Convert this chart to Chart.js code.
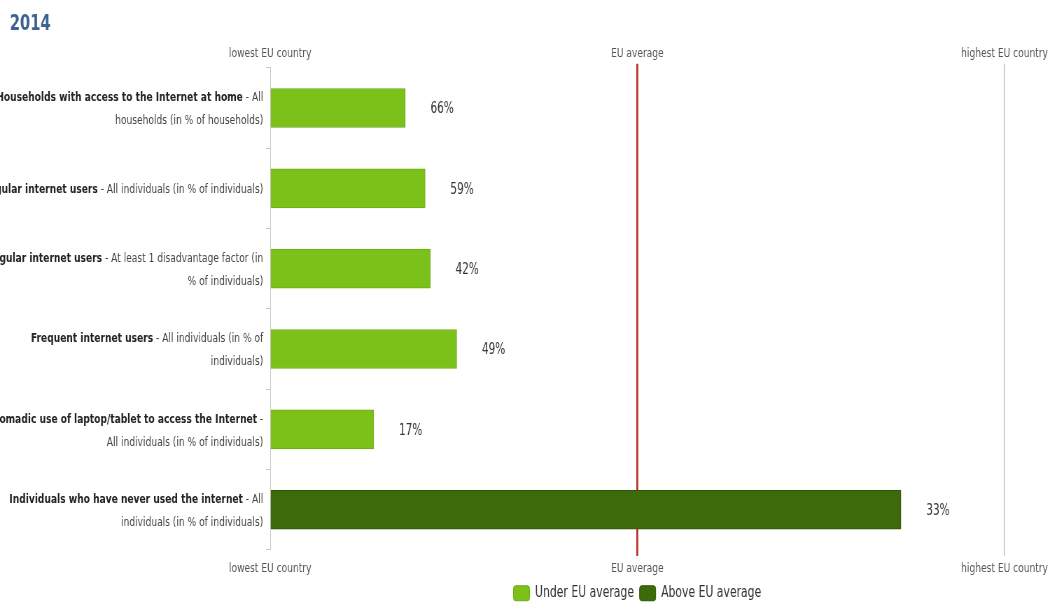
<!DOCTYPE html>
<html>
<head>
<meta charset="utf-8">
<script src="https://cdn.jsdelivr.net/npm/chart.js@4.4.1/dist/chart.umd.min.js"></script>
<style>
  html, body { margin: 0; padding: 0; background: #fff; overflow: hidden; }
  /* the source picture is squeezed horizontally, so draw wide and squeeze */
  #wrap { width: 1502px; height: 605px; transform: scaleX(0.7); transform-origin: 0 0; }
</style>
</head>
<body>
<div id="wrap"><canvas id="myChart"></canvas></div>
<script>
// bold indicator names, then the breakdown (\n marks where the label wraps)
const indicators = [
    'Households with access to the Internet at home',
    'Regular internet users',
    'Regular internet users',
    'Frequent internet users',
    'Nomadic use of laptop/tablet to access the Internet',
    'Individuals who have never used the internet'
];
const breakdowns = [
    'All\nhouseholds (in % of households)',
    'All individuals (in % of individuals)',
    'At least 1 disadvantage factor (in\n% of individuals)',
    'All individuals (in % of\nindividuals)',
    '\nAll individuals (in % of individuals)',
    'All\nindividuals (in % of individuals)'
];
// position between lowest (0) and highest (1) EU country, EU average = 0.5
const positions = [0.184, 0.211, 0.218, 0.254, 0.141, 0.859];
// the country's own value shown next to each bar
const values = [66, 59, 42, 49, 17, 33];
const tickValues = [0, 0.5, 1];
const tickLabels = ['lowest EU country', 'EU average', 'highest EU country'];
const seriesNames = ['Under EU average', 'Above EU average'];

const LIGHT = '#7cc11a';
const DARK = '#3d6b0b';

const under = positions.map(p => p < 0.5 ? p : null);
const above = positions.map(p => p >= 0.5 ? p : null);

const labelPlugin = {
    id: 'sideLabels',
    afterLayout(chart) {
        // centre the legend under the plot area
        const lg = chart.legend;
        const mid = (chart.chartArea.left + chart.chartArea.right) / 2;
        const dx = mid - (lg.left + lg.right) / 2;
        lg.left += dx;
        lg.right += dx;
        lg.top -= 4;
        lg.bottom -= 4;
        // small indent for the title
        chart.titleBlock.left += 14;
        chart.titleBlock.right += 14;
    },
    afterDatasetsDraw(chart) {
        const ctx = chart.ctx;
        const y = chart.scales.y;
        const x = chart.scales.x;
        const right = chart.chartArea.left - 10;
        ctx.save();
        ctx.textBaseline = 'middle';
        indicators.forEach((name, i) => {
            const full = name + ' - ' + breakdowns[i];
            const lines = full.split('\n').map(s => s.trim());
            const cy = y.getPixelForValue(i) + 1.5;
            const lh = 23;
            let boldLeft = name.length;
            lines.forEach((line, j) => {
                const ly = cy + (j - (lines.length - 1) / 2) * lh;
                const b = line.slice(0, Math.max(0, boldLeft));
                const r = line.slice(Math.max(0, boldLeft));
                boldLeft -= line.length + 1;
                ctx.textAlign = 'right';
                ctx.font = '13px "DejaVu Sans"';
                ctx.fillStyle = '#444';
                ctx.fillText(r, right, ly);
                const rw = ctx.measureText(r).width;
                ctx.font = 'bold 13px "DejaVu Sans"';
                ctx.fillStyle = '#222';
                ctx.fillText(b, right - rw, ly);
            });
            // value text next to the bar
            ctx.font = '15px "DejaVu Sans"';
            ctx.fillStyle = '#333';
            ctx.textAlign = 'left';
            ctx.fillText(values[i] + '%', x.getPixelForValue(positions[i]) + 36, cy);
        });
        ctx.restore();
    }
};

const lineColor = c => {
    const v = c.tick && c.tick.value;
    if (v === 0.5) return '#b8302a';
    if (v === 1) return '#bbbbbb';
    return 'rgba(0,0,0,0)';
};
const lineWidth = c => (c.tick && c.tick.value === 0.5) ? 2.8 : 1.4;

const ctx = document.getElementById('myChart').getContext('2d');
const myChart = new Chart(ctx, {
    type: 'bar',
    data: {
        labels: indicators,
        datasets: [{
            label: seriesNames[0],
            data: under,
            backgroundColor: LIGHT,
            borderColor: '#6aab12',
            borderWidth: 1,
            barThickness: 39
        }, {
            label: seriesNames[1],
            data: above,
            backgroundColor: DARK,
            borderColor: '#2f5508',
            borderWidth: 1,
            barThickness: 39
        }]
    },
    plugins: [labelPlugin],
    options: {
        indexAxis: 'y',
        responsive: true,
        maintainAspectRatio: false,
        animation: false,
        layout: { padding: { left: 0, right: 64, top: 0, bottom: -10 } },
        scales: {
            y: {
                stacked: true,
                ticks: { display: false },
                grid: { drawOnChartArea: false, tickLength: 6, color: '#c8c8c8', offset: true },
                border: { display: true, color: '#c8c8c8' },
                afterFit(scale) { scale.width = 386; }
            },
            x: {
                stacked: true,
                min: 0,
                max: 1,
                position: 'bottom',
                afterBuildTicks(scale) { scale.ticks = tickValues.map(v => ({ value: v })); },
                ticks: {
                    autoSkip: false,
                    maxRotation: 0,
                    padding: 5,
                    color: '#555',
                    font: { family: 'DejaVu Sans', size: 13 },
                    callback: (v) => tickLabels[tickValues.indexOf(v)]
                },
                grid: { color: lineColor, lineWidth: lineWidth, tickLength: 6 },
                border: { display: false }
            },
            x2: {
                type: 'linear',
                min: 0,
                max: 1,
                position: 'top',
                afterBuildTicks(scale) { scale.ticks = tickValues.map(v => ({ value: v })); },
                ticks: {
                    autoSkip: false,
                    maxRotation: 0,
                    padding: 2,
                    color: '#555',
                    font: { family: 'DejaVu Sans', size: 13 },
                    callback: (v) => tickLabels[tickValues.indexOf(v)]
                },
                grid: { drawOnChartArea: false, color: lineColor, lineWidth: lineWidth, tickLength: 4 },
                border: { display: false }
            }
        },
        plugins: {
            title: {
                display: true,
                text: '2014',
                align: 'start',
                color: '#3e6290',
                font: { family: 'DejaVu Sans', size: 21, weight: 'bold' },
                padding: { top: 12, bottom: 7 }
            },
            legend: {
                position: 'bottom',
                labels: {
                    boxWidth: 23,
                    boxHeight: 15,
                    useBorderRadius: true,
                    borderRadius: 3,
                    padding: 8,
                    color: '#333',
                    font: { family: 'DejaVu Sans', size: 15.5 }
                }
            },
            tooltip: { enabled: false }
        }
    }
});
</script>
</body>
</html>
